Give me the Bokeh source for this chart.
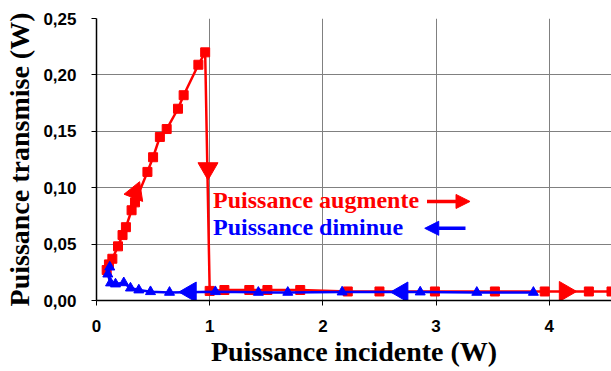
import math
from bokeh.plotting import figure
from bokeh.models import Range1d, FixedTicker, CustomJSTickFormatter, Label, Arrow, NormalHead
from bokeh.embed import file_html
from bokeh.resources import INLINE

# ---- data ----
red_x = [0.09, 0.11, 0.14, 0.19, 0.23, 0.26, 0.31, 0.34, 0.45, 0.50, 0.56, 0.62, 0.72, 0.77, 0.90, 0.96,
         1.00, 1.13, 1.35, 1.51, 1.80, 2.22, 2.50, 2.99, 3.52, 3.96, 4.35, 4.55]
red_y = [0.027, 0.032, 0.037, 0.048, 0.058, 0.065, 0.080, 0.087, 0.114, 0.127, 0.145, 0.152, 0.170, 0.182, 0.209, 0.220,
         0.0085, 0.0093, 0.0093, 0.0093, 0.0093, 0.0080, 0.0080, 0.0080, 0.0080, 0.0080, 0.0080, 0.0080]

blue_x = [3.86, 3.36, 2.86, 2.17, 1.69, 1.43, 1.05, 0.645, 0.477, 0.374, 0.30, 0.241, 0.168, 0.124, 0.10, 0.117]
blue_y = [0.0072, 0.0072, 0.0075, 0.0075, 0.0072, 0.0072, 0.0078, 0.0072, 0.0078, 0.0093, 0.011, 0.0157, 0.0146, 0.0155,
          0.0234, 0.0296]

x_ticks = [0, 1, 2, 3, 4]
x_tick_labels = ["0", "1", "2", "3", "4"]
y_ticks = [0.0, 0.05, 0.10, 0.15, 0.20, 0.25]
y_tick_labels = ["0,00", "0,05", "0,10", "0,15", "0,20", "0,25"]

x_title = "Puissance incidente (W)"
y_title = "Puissance transmise (W)"

# direction arrow heads placed along the curves
head_x = [0.344, 0.985, 0.83, 2.70]
head_y = [0.0958, 0.117, 0.0075, 0.0075]
head_angle = [-0.37, math.pi, math.pi / 2, math.pi / 2]
head_color = ["#ff0000", "#ff0000", "#0000ff", "#0000ff"]
red_head_x = [4.14]
red_head_y = [0.0080]

legend_texts = ["Puissance augmente", "Puissance diminue"]
legend_colors = ["#ff0000", "#0000ff"]
legend_x = [1.03, 1.03]
legend_y = [0.0892, 0.0650]
legend_arrow_x = [(2.92, 3.30), (3.26, 2.90)]
legend_arrow_y = [0.0878, 0.064]

p = figure(width=611, height=371, output_backend="svg", toolbar_location=None,
           x_range=Range1d(0, 4.55), y_range=Range1d(0, 0.25),
           min_border_left=96, min_border_top=18, min_border_right=0, min_border_bottom=71)
p.outline_line_color = None
p.background_fill_color = "white"

p.xaxis.ticker = FixedTicker(ticks=x_ticks)
p.yaxis.ticker = FixedTicker(ticks=y_ticks)
fmt_code = """
let b = 0;
for (let i = 0; i < tv.length; i++) { if (Math.abs(tv[i] - tick) < Math.abs(tv[b] - tick)) b = i; }
return tl[b];"""
p.xaxis.formatter = CustomJSTickFormatter(args=dict(tv=x_ticks, tl=x_tick_labels), code=fmt_code)
p.yaxis.formatter = CustomJSTickFormatter(args=dict(tv=y_ticks, tl=y_tick_labels), code=fmt_code)

for ax in (p.xaxis[0], p.yaxis[0]):
    ax.axis_line_color = "black"
    ax.axis_line_width = 1.5
    ax.major_tick_line_color = "black"
    ax.major_tick_out = 5
    ax.major_tick_in = 0
    ax.minor_tick_line_color = None
    ax.major_label_text_font = "Liberation Sans"
    ax.major_label_text_font_style = "bold"
    ax.major_label_text_font_size = "17px"
    ax.major_label_text_color = "black"
    ax.axis_label_text_font = "Liberation Serif"
    ax.axis_label_text_font_style = "bold"
    ax.axis_label_text_font_size = "28px"
    ax.axis_label_text_color = "black"

p.xaxis.axis_label = x_title
p.yaxis.axis_label = y_title
p.xaxis.major_label_standoff = 14
p.xaxis.axis_label_standoff = 1
p.yaxis.major_label_standoff = 15
p.yaxis.axis_label_standoff = 5

p.xgrid.grid_line_color = "#808080"
p.ygrid.grid_line_color = "#808080"
p.xgrid.grid_line_width = 1
p.ygrid.grid_line_width = 1

# red series (increasing power)
p.line(red_x, red_y, line_color="#ff0000", line_width=2.5)
p.scatter(red_x, red_y, marker="square", size=9, fill_color="#ff0000", line_color="#ff0000")
p.scatter(red_head_x, red_head_y, marker="triangle", size=20, angle=-math.pi / 2,
          fill_color="#ff0000", line_color="#ff0000")

# blue series (decreasing power)
p.line(blue_x, blue_y, line_color="#0000ff", line_width=2.5)
p.scatter(blue_x, blue_y, marker="triangle", size=10, fill_color="#0000ff", line_color="#0000ff")

p.scatter(head_x, head_y, marker="triangle", size=20, angle=head_angle,
          fill_color=head_color, line_color=head_color)

for t, c, lx, ly, ax_, ay in zip(legend_texts, legend_colors, legend_x, legend_y, legend_arrow_x, legend_arrow_y):
    p.add_layout(Label(x=lx, y=ly, text=t, text_color=c, text_font="Liberation Serif",
                       text_font_style="bold", text_font_size="24px", text_baseline="alphabetic"))
    p.add_layout(Arrow(x_start=ax_[0], y_start=ay, x_end=ax_[1], y_end=ay, line_color=c, line_width=3.5,
                       end=NormalHead(size=14, fill_color=c, line_color=c)))

open("out.html", "w").write(file_html(p, INLINE))
